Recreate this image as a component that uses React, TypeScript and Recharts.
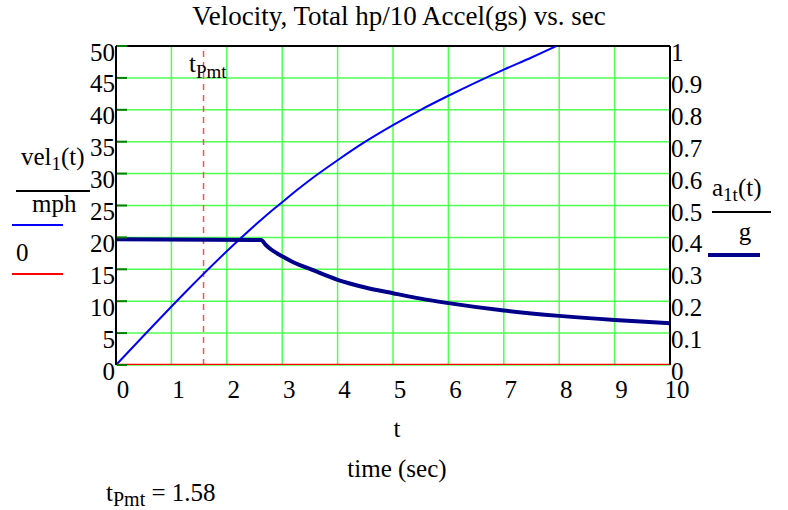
import React from "react";
import {
  ComposedChart,
  Line,
  XAxis,
  YAxis,
  CartesianGrid,
  ReferenceLine,
} from "recharts";

// Data
const velT = [0, 2.6, 2.8, 3, 3.25, 3.5, 4, 4.5, 5, 5.5, 6, 6.5, 7, 7.5, 7.95];
const velV = [0, 22.6, 24.1, 25.5, 27.3, 29.0, 32.1, 35.0, 37.6, 40.0, 42.2, 44.3, 46.3, 48.2, 50];

const accT = [0, 2.62, 2.7, 2.8, 3, 3.25, 3.5, 4, 4.5, 5, 5.5, 6, 7, 8, 9, 10];
const accA = [0.394, 0.392, 0.377, 0.362, 0.341, 0.318, 0.301, 0.267, 0.243, 0.225, 0.208, 0.194, 0.171, 0.154, 0.141, 0.131];

const zeroT = [0, 10];
const zeroV = [0, 0];

const xTicks = [0, 1, 2, 3, 4, 5, 6, 7, 8, 9, 10];
const leftTicks = [0, 5, 10, 15, 20, 25, 30, 35, 40, 45, 50];
const rightTicks = [0, 0.1, 0.2, 0.3, 0.4, 0.5, 0.6, 0.7, 0.8, 0.9, 1];
const rightTickLabels = ["0", "0.1", "0.2", "0.3", "0.4", "0.5", "0.6", "0.7", "0.8", "0.9", "1"];

const tPmt = 1.58;

const velData = velT.map((t, i) => ({ t, v: velV[i] }));
const accData = accT.map((t, i) => ({ t, a: accA[i] }));
const zeroData = zeroT.map((t, i) => ({ t, z: zeroV[i] }));

const FONT = "'Liberation Serif', 'Times New Roman', serif";
const FS = 25;
const SUB = 19;

const LeftTick = (props: any) => {
  const { y, payload } = props;
  return (
    <g>
      <line x1={117} x2={127} y1={y} y2={y} stroke="#008000" strokeWidth={2} />
      <text x={115} y={y + 6} textAnchor="end" dominantBaseline="central" fontFamily={FONT} fontSize={FS} fill="#000">
        {payload.value}
      </text>
    </g>
  );
};

const RightTick = (props: any) => {
  const { y, payload, index } = props;
  return (
    <text x={671} y={y + 6.5} textAnchor="start" dominantBaseline="central" fontFamily={FONT} fontSize={FS} fill="#000">
      {rightTickLabels[index] ?? payload.value}
    </text>
  );
};

const XTick = (props: any) => {
  const { x, payload } = props;
  return (
    <text x={x + 7} y={389} textAnchor="middle" dominantBaseline="central" fontFamily={FONT} fontSize={FS} fill="#000">
      {payload.value}
    </text>
  );
};

export default function App() {
  return (
    <div style={{ position: "absolute", left: 0, top: 0, width: 788, height: 510, background: "#fff" }}>
      <ComposedChart
        width={788}
        height={510}
        margin={{ top: 46, right: 0, bottom: 0, left: 0 }}
      >
        <CartesianGrid yAxisId="left" stroke="#50ff50" strokeWidth={1.5} />
        <XAxis
          dataKey="t"
          type="number"
          domain={[0, 10]}
          ticks={xTicks}
          allowDuplicatedCategory={false}
          height={145}
          axisLine={false}
          tickLine={false}
          tick={<XTick />}
          interval={0}
        />
        <YAxis
          yAxisId="left"
          orientation="left"
          type="number"
          domain={[0, 50]}
          ticks={leftTicks}
          width={116}
          axisLine={{ stroke: "#000", strokeWidth: 2 }}
          tickLine={false}
          tick={<LeftTick />}
          interval={0}
          allowDataOverflow
        />
        <YAxis
          yAxisId="right"
          orientation="right"
          type="number"
          domain={[0, 1]}
          ticks={rightTicks}
          width={118}
          axisLine={{ stroke: "#000", strokeWidth: 2 }}
          tickLine={false}
          tick={<RightTick />}
          interval={0}
          allowDataOverflow
        />
        <ReferenceLine yAxisId="left" y={50} stroke="#000" strokeWidth={2} />
        <ReferenceLine yAxisId="left" x={tPmt} stroke="#ff5050" strokeWidth={1.5} strokeDasharray="6 5" />
        <Line
          yAxisId="left"
          data={velData}
          dataKey="v"
          type="monotone"
          stroke="#0000ff"
          strokeWidth={2}
          dot={false}
          isAnimationActive={false}
        />
        <Line
          yAxisId="right"
          data={accData}
          dataKey="a"
          type="monotone"
          stroke="#00008b"
          strokeWidth={4}
          dot={false}
          isAnimationActive={false}
        />
        <Line
          yAxisId="left"
          data={zeroData}
          dataKey="z"
          type="linear"
          stroke="#ff0000"
          strokeWidth={2.5}
          dot={false}
          isAnimationActive={false}
        />
      </ComposedChart>
      <svg
        width={788}
        height={510}
        style={{ position: "absolute", left: 0, top: 0, pointerEvents: "none" }}
      >
        <g fontFamily={FONT} fontSize={FS} fill="#000">
          <text x={399} y={25} textAnchor="middle" fontSize={27}>Velocity, Total hp/10 Accel(gs) vs. sec</text>
          {/* in-plot label */}
          <text x={189} y={72}>
            t<tspan fontSize={SUB} dy={6}>Pmt</tspan>
          </text>
          {/* left legend */}
          <text x={21} y={165}>
            vel<tspan fontSize={SUB} dy={5}>1</tspan><tspan dy={-5}>(t)</tspan>
          </text>
          <line x1={16} x2={90} y1={191} y2={191} stroke="#000" strokeWidth={2} />
          <text x={32} y={212}>mph</text>
          <line x1={12} x2={63} y1={225} y2={225} stroke="#0000ff" strokeWidth={2} />
          <text x={16} y={261}>0</text>
          <line x1={12} x2={63} y1={274} y2={274} stroke="#ff0000" strokeWidth={2} />
          {/* right legend */}
          <text x={712} y={196}>
            a<tspan fontSize={SUB} dy={5}>1t</tspan><tspan dy={-5}>(t)</tspan>
          </text>
          <line x1={712} x2={771} y1={212} y2={212} stroke="#000" strokeWidth={2} />
          <text x={745} y={240} textAnchor="middle">g</text>
          <line x1={708} x2={760} y1={255} y2={255} stroke="#00008b" strokeWidth={4} />
          {/* bottom labels */}
          <text x={397} y={437} textAnchor="middle">t</text>
          <text x={397} y={477} textAnchor="middle">time (sec)</text>
          <text x={106} y={501}>
            t<tspan fontSize={20} dy={5}>Pmt</tspan><tspan dy={-5}> = 1.58</tspan>
          </text>
        </g>
      </svg>
    </div>
  );
}
